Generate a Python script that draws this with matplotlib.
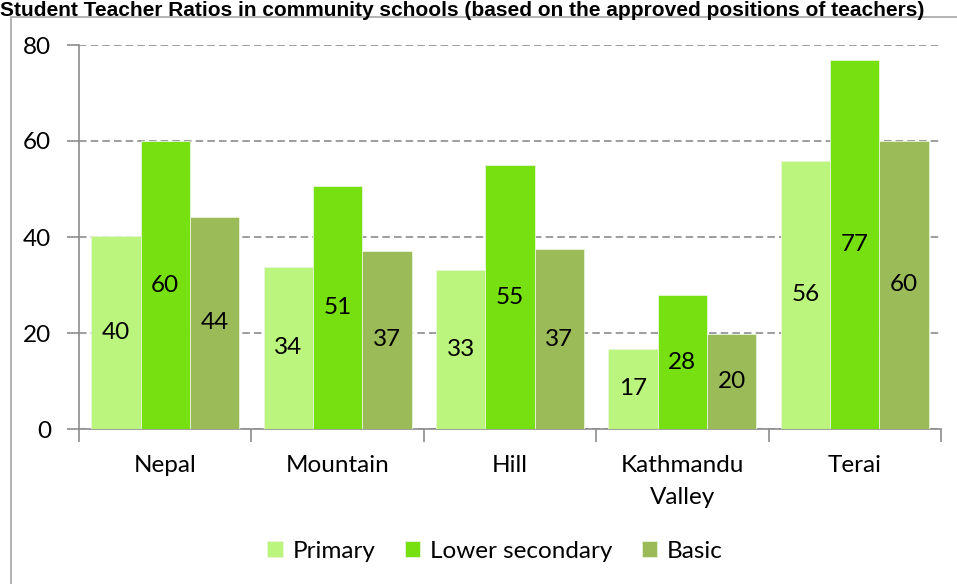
import numpy as np
import matplotlib
matplotlib.use("Agg")
import matplotlib.pyplot as plt
from matplotlib.patches import Rectangle

regions = ['Nepal', 'Mountain', 'Hill', 'Kathmandu\nValley', 'Terai']
primary = [40.2, 33.8, 33.1, 16.7, 55.9]
lower_secondary = [60.0, 50.6, 55.0, 27.9, 76.9]
basic = [44.2, 37.1, 37.4, 19.8, 60.1]
series = ['Primary', 'Lower secondary', 'Basic']
colors = ['#BCF57E', '#77E011', '#9BBB59']

plt.rcParams['font.family'] = 'Lato'
fs = 17.5

fig = plt.figure(figsize=(9.57, 5.84), dpi=100)
ax = fig.add_axes([79 / 957, 1 - 429 / 584, 862 / 957, 384 / 584])

# outer chart frame (cut by the image edge)
fig.patches.append(Rectangle((11 / 957, -0.1), 1.2, 1 - 17 / 584 + 0.1,
                             transform=fig.transFigure, fill=False,
                             edgecolor='#A6A6A6', linewidth=1.2))

fig.text(0.0, 1 - 1 / 584, 'Student Teacher Ratios in community schools '
         '(based on the approved positions of teachers)',
         family='Liberation Sans', fontweight='bold', fontsize=15,
         va='top', ha='left')

x = np.arange(len(regions))
w = 0.286
for i, (vals, name, c) in enumerate(zip([primary, lower_secondary, basic], series, colors)):
    bars = ax.bar(x + (i - 1) * w, vals, w, color=c, label=name,
                  edgecolor='#E8F5D8', linewidth=0.6, zorder=3)
    for b, v in zip(bars, vals):
        ax.text(b.get_x() + b.get_width() / 2, v / 2, f'{v:.0f}',
                ha='center', va='center', fontsize=fs, zorder=4)

ax.set_xlim(-0.5, len(regions) - 0.5)
ax.set_ylim(0, 80)
ax.set_yticks([0, 20, 40, 60, 80])
ax.yaxis.grid(True, linestyle=(0, (4.5, 2.5)), color='#8C8C8C', linewidth=1.2, zorder=0)
ax.set_axisbelow(True)

ax.set_xticks(x)
ax.set_xticklabels(regions, fontsize=fs, linespacing=1.65)
ax.set_xticks(np.arange(len(regions) + 1) - 0.5, minor=True)
ax.tick_params(axis='x', which='major', length=0, pad=19)
ax.tick_params(axis='x', which='minor', length=9, direction='out', color='#8C8C8C', width=1.2)
ax.tick_params(axis='y', length=9, direction='out', color='#8C8C8C', width=1.2,
               labelsize=fs, pad=11)

for s in ['top', 'right']:
    ax.spines[s].set_visible(False)
for s in ['left', 'bottom']:
    ax.spines[s].set_color('#8C8C8C')
    ax.spines[s].set_linewidth(1.2)

ax.legend(loc='center', bbox_to_anchor=(495 / 957, 1 - 551 / 584),
          bbox_transform=fig.transFigure, ncol=3, frameon=False, fontsize=fs,
          handlelength=0.65, handleheight=0.65, handletextpad=0.4, columnspacing=1.2)

fig.savefig('out.png', dpi=100)
